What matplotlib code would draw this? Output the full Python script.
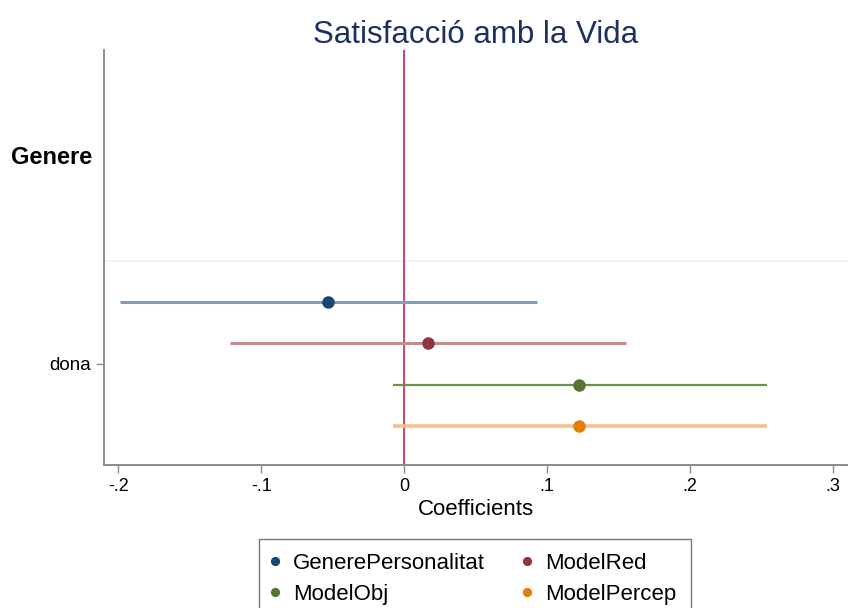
import numpy as np
import matplotlib.pyplot as plt

plt.rcParams['font.family'] = ['Liberation Sans', 'DejaVu Sans']

# coefficient estimates for "dona" (reference: home), one per model
models = ['GenerePersonalitat', 'ModelRed', 'ModelObj', 'ModelPercep']
coef = [-0.053, 0.017, 0.122, 0.122]
ci_low = [-0.199, -0.122, -0.008, -0.008]
ci_high = [0.093, 0.155, 0.254, 0.254]
offsets = [-0.3, -0.1, 0.1, 0.3]
point_cols = ['#1a476f', '#90353b', '#55752f', '#e37e00']
ci_cols = ['#7f9dbd', '#c48b91', '#6f8f4f', '#f5c28f']
ci_widths = [2.2, 2.2, 1.6, 2.6]

xticks = [-0.2, -0.1, 0, 0.1, 0.2, 0.3]
xticklabels = ['-.2', '-.1', '0', '.1', '.2', '.3']

fig = plt.figure(figsize=(8.48, 6.08), dpi=100)
ax = fig.add_axes([0.1226, 0.235, 0.8774, 0.683])

ax.axhline(1.5, color='#eef2f4', lw=1.2, zorder=0)
ax.axvline(0, color='#d8405f', lw=1.4, zorder=1)

handles = []
for i in range(len(models)):
    y = 2 + offsets[i]
    ax.plot([ci_low[i], ci_high[i]], [y, y], color=ci_cols[i], lw=ci_widths[i], zorder=2,
            solid_capstyle='butt')
    h, = ax.plot(coef[i], y, 'o', color=point_cols[i], ms=8, zorder=3, label=models[i])
    handles.append(h)

ax.set_xlim(-0.21, 0.3105)
ax.set_ylim(2.49, 0.48)
ax.set_xticks(xticks)
ax.set_xticklabels(xticklabels, fontsize=13)
ax.set_yticks([2])
ax.set_yticklabels(['dona'], fontsize=13.5)
ax.text(-0.016, 1, 'Genere', transform=ax.get_yaxis_transform(), ha='right', va='center',
        fontsize=17, fontweight='bold')
ax.set_xlabel('Coefficients', fontsize=16, labelpad=3)
ax.set_title('Satisfacció amb la Vida', fontsize=22.5, color='#1e3060', pad=4)

for s in ['top', 'right']:
    ax.spines[s].set_visible(False)
for s in ['left', 'bottom']:
    ax.spines[s].set_color('#8c8c8c')
    ax.spines[s].set_linewidth(1.4)
ax.tick_params(colors='#8c8c8c', labelcolor='black', length=6, width=1)

# row-wise order like the reference
order = [0, 2, 1, 3]
fig.legend([handles[k] for k in order], [models[k] for k in order],
           loc='upper center', bbox_to_anchor=(0.56, 0.114), ncol=2, fontsize=16,
           frameon=True, fancybox=False, edgecolor='#555555', handletextpad=0.7,
           columnspacing=1.8, markerscale=0.7, borderpad=0.65, labelspacing=0.45,
           borderaxespad=0, handlelength=0.2)

fig.savefig('out.png', dpi=100)
